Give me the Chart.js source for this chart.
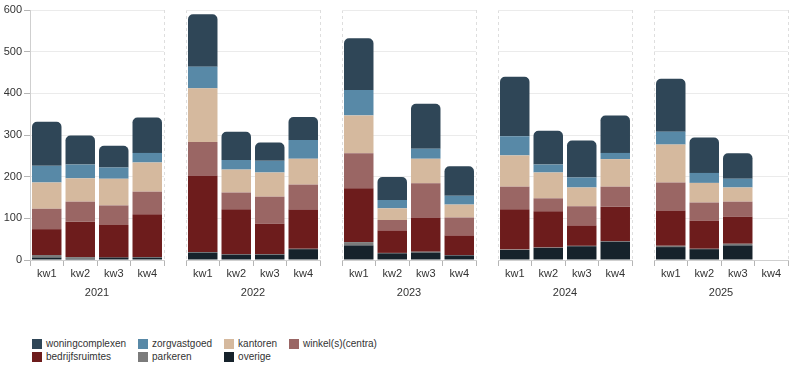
<!DOCTYPE html>
<html>
<head>
<meta charset="utf-8">
<script src="https://cdn.jsdelivr.net/npm/chart.js@4.4.1/dist/chart.umd.min.js"></script>
<style>
body{margin:0;background:#fff;font-family:"Liberation Sans",Arial,sans-serif;}
#wrap{position:relative;width:794px;height:367px;}
.panel{position:absolute;top:0;height:300px;}
#legend{position:absolute;left:32px;top:337px;display:grid;grid-template-columns:repeat(4,auto);column-gap:12px;font-size:10px;color:#333;line-height:13px;}
#legend div{display:flex;align-items:center;}
#legend span{display:inline-block;width:10px;height:10px;margin-right:4px;}
</style>
</head>
<body>
<div id="wrap">
<div id="legend"></div>
</div>
<script>
// jaren en kwartalen
var years=['2021','2022','2023','2024','2025'];
var quarters=['kw1','kw2','kw3','kw4'];
var yTicks=[0,100,200,300,400,500,600];

// waarden per serie, 4 kwartalen per jaar achter elkaar
var overige=[6,3,6,6, 18,13,13,26, 35,16,18,11, 24,29,33,44, 31,26,35,null];
var parkeren=[6,4,0,1, 1,1,1,1, 8,1,2,1, 1,1,1,1, 3,1,4,null];
var bedrijfsruimtes=[62,85,78,103, 184,108,73,94, 129,54,82,47, 97,87,49,83, 84,67,65,null];
var winkels=[49,48,47,54, 80,40,65,60, 84,25,82,43, 54,31,46,48, 68,44,36,null];
var kantoren=[63,56,64,70, 129,55,58,62, 91,28,59,31, 75,62,45,66, 91,47,34,null];
var zorgvastgoed=[40,33,27,23, 52,23,28,45, 61,20,24,21, 46,19,24,15, 31,24,21,null];
var woningcomplexen=[106,70,52,85, 126,68,44,55, 124,55,108,71, 143,81,89,90, 127,85,61,null];

var series=[
{label:'overige',data:overige,color:'#16222b'},
{label:'parkeren',data:parkeren,color:'#7b7b7b'},
{label:'bedrijfsruimtes',data:bedrijfsruimtes,color:'#6d1c1c'},
{label:'winkel(s)(centra)',data:winkels,color:'#9a6664'},
{label:'kantoren',data:kantoren,color:'#d5b99e'},
{label:'zorgvastgoed',data:zorgvastgoed,color:'#5889a7'},
{label:'woningcomplexen',data:woningcomplexen,color:'#2f4657'}
];

Chart.defaults.font.family='"Liberation Sans", Arial, sans-serif';
Chart.defaults.font.size=11;
Chart.defaults.color='#333';

var wrap=document.getElementById('wrap');

years.forEach(function(year,i){

var first=(i==0);
var c=document.createElement('canvas');
c.className='panel';
var left=first?0:186+156*(i-1);
var w=first?165:135;
c.style.left=left+'px';
c.width=w;c.height=300;
c.style.width=w+'px';
wrap.appendChild(c);

var datasets=series.map(function(s){
return {
label:s.label,
data:s.data.slice(i*4,i*4+4),
backgroundColor:s.color,
borderWidth:0,
borderRadius:s.label=='woningcomplexen'?{topLeft:5,topRight:5,bottomLeft:0,bottomRight:0}:0,
borderSkipped:'start',
categoryPercentage:1,
barPercentage:0.88
};
});

new Chart(c,{
type:'bar',
data:{labels:quarters,datasets:datasets},
options:{
responsive:false,
animation:false,
layout:{padding:{top:10,right:1,bottom:0,left:0}},
plugins:{legend:{display:false},tooltip:{enabled:false}},
scales:{
x:{
stacked:true,
afterFit:function(s){s.height=40;},
grid:{
color:function(ctx){return (ctx.index===0||ctx.index===undefined)?'#dedede':'rgba(0,0,0,0)';},
tickColor:'#b5b5b5',
tickLength:6
},
border:{color:'#cfcfcf',dash:[3,3]},
ticks:{padding:1,color:'#333'},
title:{display:true,text:year,color:'#333',padding:{top:2,bottom:0}}
},
y:{
stacked:true,
min:0,max:600,
afterFit:function(s){s.width=first?30:0;},
afterBuildTicks:function(s){s.ticks=yTicks.map(function(v){return {value:v};});},
grid:{color:'#ebebeb',tickColor:'#b5b5b5',tickLength:6,drawTicks:first},
border:{display:first,color:'#cfcfcf'},
ticks:{display:first,padding:2,color:'#333'}
}
}
}
});

});

/* legenda */
var order=['woningcomplexen','zorgvastgoed','kantoren','winkel(s)(centra)','bedrijfsruimtes','parkeren','overige'];
var lg=document.getElementById('legend');
order.forEach(function(name){
var s=series.filter(function(x){return x.label==name;})[0];
var d=document.createElement('div');
d.innerHTML='<span style="background:'+s.color+'"></span>'+s.label;
lg.appendChild(d);
});
</script>
</body>
</html>
